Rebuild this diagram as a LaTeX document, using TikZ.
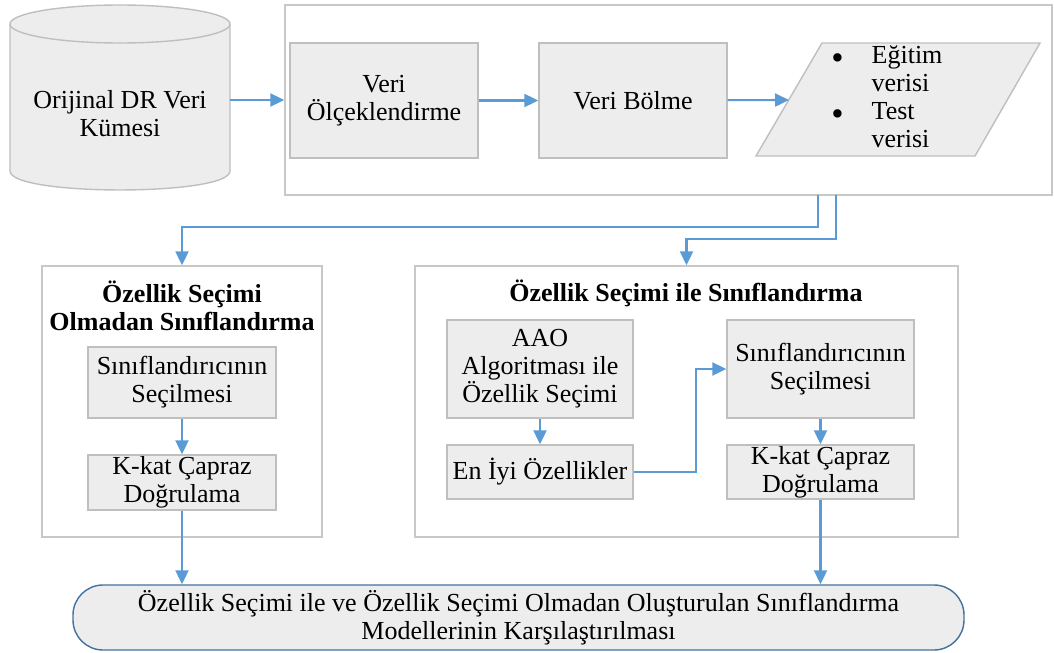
\documentclass[tikz,border=0pt]{standalone}
\usepackage{fontspec}
\setmainfont{Liberation Serif}
\usetikzlibrary{arrows.meta,calc}
\definecolor{boxfill}{RGB}{237,237,237}
\definecolor{boxline}{RGB}{191,191,191}
\definecolor{frameline}{RGB}{200,200,200}
\definecolor{arrblue}{RGB}{91,155,213}
\definecolor{endline}{RGB}{65,113,156}
\newcommand{\pxu}{0.02cm}
\newcommand{\bigdot}{\raisebox{-3.5pt}{\fontsize{20}{15.9}\selectfont\textbullet}}

\begin{document}
\begin{tikzpicture}[x=0.02cm, y=-0.02cm,
  every node/.style={font=\fontsize{14.8}{15.9}\selectfont, align=center, inner sep=0pt},
  box/.style={draw=boxline, fill=boxfill, line width=0.8pt},
  frame/.style={draw=frameline, fill=white, line width=0.8pt},
  arr/.style={draw=arrblue, line width=1.2pt, -{Triangle[length=0.28cm,width=0.26cm]}}]

\useasboundingbox (0,0) rectangle (1054,652);

% veri kumesi
\draw[box] (10,24) -- (10,171) .. controls (10,196.3) and (230,196.3) .. (230,171) -- (230,24);
\draw[box] (120,24) ellipse (110 and 19);
\node (data) at (120,114) {Orijinal DR Veri\\Kümesi};
\coordinate (dataE) at (230,100);

% on isleme
\node[frame, minimum width=767*\pxu, minimum height=190*\pxu] (top) at (668.5,100) {};
\node[box, minimum width=188*\pxu, minimum height=115*\pxu] (scale) at (384,100.5) {Veri\\Ölçeklendirme};
\node[box, minimum width=188*\pxu, minimum height=115*\pxu] (split) at (633,100.5) {Veri Bölme};
\draw[box] (756,156) -- (822,43) -- (1040,43) -- (975,156) -- cycle;
\coordinate (setsW) at (789,100);
\node[anchor=west] (sets) at (831,100) {\begin{tabular}{@{}l@{\hspace{0.56cm}}l@{}}
  \bigdot & Eğitim\\ & verisi\\ \bigdot & Test\\ & verisi\end{tabular}};

\draw[arr] (dataE) -- (top.west);
\draw[arr] (scale) -- (split);
\draw[arr] (split) -- (setsW);

% ozellik secimi olmadan
\node[frame, minimum width=280*\pxu, minimum height=271*\pxu] (left) at (182,401.5) {};
\node[font=\fontsize{14.8}{15.9}\selectfont\bfseries] (ltitle) at (182,306) {Özellik Seçimi\\Olmadan Sınıflandırma};
\node[box, minimum width=188*\pxu, minimum height=71*\pxu] (cls1) at (182,382.5) {Sınıflandırıcının\\Seçilmesi};
\node[box, minimum width=188*\pxu, minimum height=55*\pxu] (kfold1) at (182,482.5) {K-kat Çapraz\\Doğrulama};
\draw[arr] (cls1) -- (kfold1);

% ozellik secimi ile
\node[frame, minimum width=543*\pxu, minimum height=271*\pxu] (right) at (686.5,401.5) {};
\node[font=\fontsize{14.8}{15.9}\selectfont\bfseries] (rtitle) at (686,293) {Özellik Seçimi ile Sınıflandırma};
\node[box, minimum width=186*\pxu, minimum height=98*\pxu] (aao) at (540,369) {AAO\\Algoritması ile\\Özellik Seçimi};
\node[box, minimum width=186*\pxu, minimum height=54*\pxu] (best) at (540,472) {En İyi Özellikler};
\node[box, minimum width=187*\pxu, minimum height=98*\pxu] (cls2) at (820.5,369) {Sınıflandırıcının\\Seçilmesi};
\node[box, minimum width=187*\pxu, minimum height=54*\pxu] (kfold2) at (820.5,472) {K-kat Çapraz\\Doğrulama};
\draw[arr] (aao) -- (best);
\draw[arr] (best.east) -- ++(62,0) |- (cls2.west);
\draw[arr] (cls2) -- (kfold2);

% dallanma
\coordinate (splitA) at (818,195);
\coordinate (splitB) at (836,195);
\draw[arr] (splitA) -- ++(0,32) -| (left.north);
\draw[arr] (splitB) -- ++(0,44) -| (right.north);

% karsilastirma
\node[draw=endline, fill=boxfill, line width=0.8pt, rounded corners=0.6cm,
  minimum width=891*\pxu, minimum height=65*\pxu] (result) at (518.5,617.5)
  {Özellik Seçimi ile ve Özellik Seçimi Olmadan Oluşturulan Sınıflandırma\\Modellerinin Karşılaştırılması};
\draw[arr] (kfold1.south) -- (kfold1.south |- result.north);
\draw[arr] (kfold2.south) -- (kfold2.south |- result.north);

\end{tikzpicture}
\end{document}
